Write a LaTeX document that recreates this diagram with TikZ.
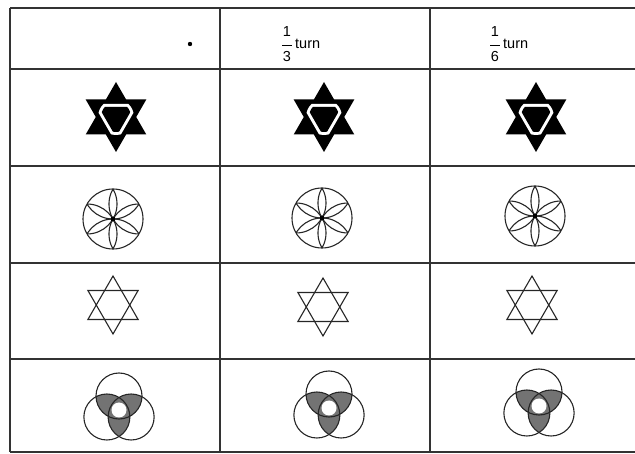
\documentclass[tikz,border=0pt]{standalone}
\usepackage{fontspec}
\setmainfont{Liberation Sans}
\usetikzlibrary{calc}
\begin{document}
\begin{tikzpicture}[x=1pt,y=-1pt,
  tbl/.style={line width=1.4pt,draw=black!80},
  sym/.style={line width=1.1pt,draw=black!85},
  lbl/.style={inner sep=0pt,font=\fontsize{14.5}{16}\selectfont},
  solidstar/.pic={
    \fill[black] (90:35) -- (210:35) -- (330:35) -- cycle;
    \fill[black] (270:35) -- (30:35) -- (150:35) -- cycle;
    \begin{scope}
      \clip (0,0) circle (18);
      \fill[white] (90:26) -- (210:26) -- (330:26) -- cycle;
    \end{scope}
    \begin{scope}
      \clip (0,0) circle (15);
      \fill[black] (90:20) -- (210:20) -- (330:20) -- cycle;
    \end{scope}
  },
  rosette/.pic={
    \begin{scope}
      \clip (0,0) circle (30);
      \foreach \a in {30,90,...,330} \draw[sym] (\a:30) circle (30);
    \end{scope}
    \draw[sym] (0,0) circle (30);
    \fill[black] (0,0) circle (2.5);
  },
  hexstar/.pic={
    \draw[sym,line join=miter] (90:29) -- (210:29) -- (330:29) -- cycle;
    \draw[sym,line join=miter] (270:29) -- (30:29) -- (150:29) -- cycle;
  },
  trefoil/.pic={
    \begin{scope}
      \clip (270:14) circle (23);
      \fill[black!55] (30:14) circle (23);
      \fill[black!55] (150:14) circle (23);
    \end{scope}
    \begin{scope}
      \clip (30:14) circle (23);
      \fill[black!55] (150:14) circle (23);
    \end{scope}
    \fill[white] (0,0) circle (7.5);
    \draw[sym] (270:14) circle (23);
    \draw[sym] (30:14) circle (23);
    \draw[sym] (150:14) circle (23);
  }
]
\useasboundingbox (0,0) rectangle (635,454);
% table grid
\draw[tbl] (10,8) -- (635,8);
\draw[tbl] (10,69) -- (635,69);
\draw[tbl] (10,166) -- (635,166);
\draw[tbl] (10,263) -- (635,263);
\draw[tbl] (10,359) -- (635,359);
\draw[tbl] (10,452) -- (635,452);
\draw[tbl] (10,8) -- (10,452);
\draw[tbl] (220,8) -- (220,452);
\draw[tbl] (430,8) -- (430,452);
% header
\fill[black] (190,44) circle (2.2);
\node[lbl] (n1) at (287,32) {1};
\node[lbl] (d1) at (287,57) {3};
\draw[line width=0.8pt] (282,45) -- (292,45);
\node[lbl,anchor=west] (t1) at (295,44) {turn};
\node[lbl] (n2) at (495,32) {1};
\node[lbl] (d2) at (495,57) {6};
\draw[line width=0.8pt] (490,45) -- (500,45);
\node[lbl,anchor=west] (t2) at (503,44) {turn};
% row 1
\pic at (116,117) {solidstar};
\pic at (324,117) {solidstar};
\pic at (536,117) {solidstar};
% row 2
\pic at (113,219) {rosette};
\pic at (322,218) {rosette};
\pic at (535,216) {rosette};
% row 3
\pic at (113,305) {hexstar};
\pic at (323,307) {hexstar};
\pic at (532,305) {hexstar};
% row 4
\pic at (119,410) {trefoil};
\pic at (329,408) {trefoil};
\pic at (539,406) {trefoil};
\end{tikzpicture}
\end{document}
